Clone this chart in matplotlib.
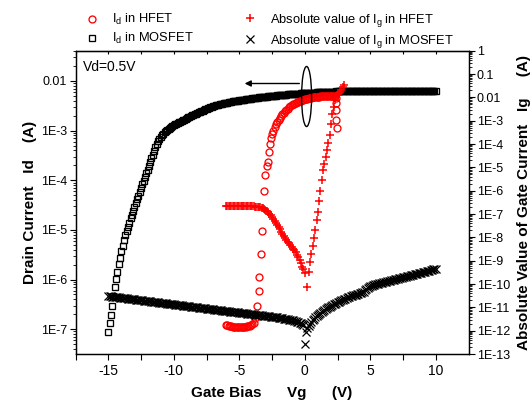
import numpy as np
import matplotlib
matplotlib.use("Agg")
import matplotlib.pyplot as plt
from matplotlib.ticker import FixedLocator, FuncFormatter, LogLocator, NullFormatter
from matplotlib.patches import Ellipse

plt.rcParams['font.family'] = ['Liberation Sans', 'DejaVu Sans']
plt.rcParams['axes.unicode_minus'] = False
plt.rcParams['mathtext.fontset'] = 'custom'
plt.rcParams['mathtext.rm'] = 'Liberation Sans'

# ---------------- data ----------------
vg_mos = [-15.0, -14.9, -14.8, -14.7, -14.6, -14.5, -14.4, -14.3, -14.2, -14.1,
          -14.0, -13.9, -13.8, -13.7, -13.6, -13.5, -13.4, -13.3, -13.2, -13.1,
          -13.0, -12.9, -12.8, -12.7, -12.6, -12.5, -12.4, -12.3, -12.2, -12.1,
          -12.0, -11.9, -11.8, -11.7, -11.6, -11.5, -11.4, -11.3, -11.2, -11.1,
          -11.0, -10.9, -10.8, -10.7, -10.6, -10.5, -10.4, -10.3, -10.2, -10.1,
          -10.0, -9.9, -9.8, -9.7, -9.6, -9.5, -9.4, -9.3, -9.2, -9.1,
          -9.0, -8.9, -8.8, -8.7, -8.6, -8.5, -8.4, -8.3, -8.2, -8.1,
          -8.0, -7.9, -7.8, -7.7, -7.6, -7.5, -7.4, -7.3, -7.2, -7.1,
          -7.0, -6.9, -6.8, -6.7, -6.6, -6.5, -6.4, -6.3, -6.2, -6.1,
          -6.0, -5.9, -5.8, -5.7, -5.6, -5.5, -5.4, -5.3, -5.2, -5.1,
          -5.0, -4.9, -4.8, -4.7, -4.6, -4.5, -4.4, -4.3, -4.2, -4.1,
          -4.0, -3.9, -3.8, -3.7, -3.6, -3.5, -3.4, -3.3, -3.2, -3.1,
          -3.0, -2.9, -2.8, -2.7, -2.6, -2.5, -2.4, -2.3, -2.2, -2.1,
          -2.0, -1.9, -1.8, -1.7, -1.6, -1.5, -1.4, -1.3, -1.2, -1.1,
          -1.0, -0.9, -0.8, -0.7, -0.6, -0.5, -0.4, -0.3, -0.2, -0.1,
          0.0, 0.1, 0.2, 0.3, 0.4, 0.5, 0.6, 0.7, 0.8, 0.9,
          1.0, 1.1, 1.2, 1.3, 1.4, 1.5, 1.6, 1.7, 1.8, 1.9,
          2.0, 2.1, 2.2, 2.3, 2.4, 2.5, 2.6, 2.7, 2.8, 2.9,
          3.0, 3.1, 3.2, 3.3, 3.4, 3.5, 3.6, 3.7, 3.8, 3.9,
          4.0, 4.1, 4.2, 4.3, 4.4, 4.5, 4.6, 4.7, 4.8, 4.9,
          5.0, 5.1, 5.2, 5.3, 5.4, 5.5, 5.6, 5.7, 5.8, 5.9,
          6.0, 6.1, 6.2, 6.3, 6.4, 6.5, 6.6, 6.7, 6.8, 6.9,
          7.0, 7.1, 7.2, 7.3, 7.4, 7.5, 7.6, 7.7, 7.8, 7.9,
          8.0, 8.1, 8.2, 8.3, 8.4, 8.5, 8.6, 8.7, 8.8, 8.9,
          9.0, 9.1, 9.2, 9.3, 9.4, 9.5, 9.6, 9.7, 9.8, 9.9,
          10.0]

id_mos = [8.7e-8, 1.32e-7, 1.95e-7, 2.95e-7, 4.6e-7, 7.1e-7, 1.02e-6, 1.45e-6, 2.04e-6, 2.75e-6,
          3.7e-6, 4.8e-6, 6.2e-6, 7.8e-6, 9.5e-6, 1.17e-5, 1.41e-5, 1.70e-5, 2.04e-5, 2.45e-5,
          2.95e-5, 3.5e-5, 4.1e-5, 4.9e-5, 5.8e-5, 6.9e-5, 8.3e-5, 9.8e-5, 1.17e-4, 1.38e-4,
          1.62e-4, 1.95e-4, 2.29e-4, 2.75e-4, 3.2e-4, 3.9e-4, 4.6e-4, 5.4e-4, 6.2e-4, 6.9e-4,
          7.6e-4, 8.1e-4, 8.7e-4, 9.3e-4, 1.00e-3, 1.05e-3, 1.10e-3, 1.15e-3, 1.20e-3, 1.24e-3,
          1.29e-3, 1.33e-3, 1.37e-3, 1.42e-3, 1.47e-3, 1.51e-3, 1.56e-3, 1.61e-3, 1.67e-3, 1.72e-3,
          1.78e-3, 1.84e-3, 1.90e-3, 1.96e-3, 2.02e-3, 2.09e-3, 2.15e-3, 2.21e-3, 2.27e-3, 2.33e-3,
          2.40e-3, 2.47e-3, 2.54e-3, 2.61e-3, 2.68e-3, 2.75e-3, 2.82e-3, 2.88e-3, 2.95e-3, 3.02e-3,
          3.09e-3, 3.15e-3, 3.21e-3, 3.27e-3, 3.33e-3, 3.39e-3, 3.44e-3, 3.48e-3, 3.53e-3, 3.58e-3,
          3.63e-3, 3.68e-3, 3.73e-3, 3.78e-3, 3.84e-3, 3.89e-3, 3.93e-3, 3.96e-3, 4.00e-3, 4.04e-3,
          4.07e-3, 4.11e-3, 4.15e-3, 4.19e-3, 4.23e-3, 4.27e-3, 4.31e-3, 4.35e-3, 4.39e-3, 4.43e-3,
          4.47e-3, 4.51e-3, 4.55e-3, 4.59e-3, 4.63e-3, 4.68e-3, 4.70e-3, 4.72e-3, 4.74e-3, 4.77e-3,
          4.79e-3, 4.84e-3, 4.88e-3, 4.92e-3, 4.97e-3, 5.01e-3, 5.03e-3, 5.06e-3, 5.08e-3, 5.11e-3,
          5.13e-3, 5.17e-3, 5.20e-3, 5.24e-3, 5.27e-3, 5.31e-3, 5.33e-3, 5.36e-3, 5.38e-3, 5.41e-3,
          5.43e-3, 5.46e-3, 5.48e-3, 5.51e-3, 5.53e-3, 5.56e-3, 5.58e-3, 5.61e-3, 5.64e-3, 5.66e-3,
          5.69e-3, 5.72e-3, 5.74e-3, 5.77e-3, 5.79e-3, 5.82e-3, 5.83e-3, 5.84e-3, 5.86e-3, 5.87e-3,
          5.89e-3, 5.92e-3, 5.94e-3, 5.97e-3, 6.00e-3, 6.03e-3, 6.04e-3, 6.05e-3, 6.07e-3, 6.08e-3,
          6.10e-3, 6.11e-3, 6.13e-3, 6.14e-3, 6.15e-3, 6.17e-3, 6.17e-3, 6.16e-3, 6.17e-3, 6.18e-3,
          6.17e-3, 6.17e-3, 6.16e-3, 6.17e-3, 6.18e-3, 6.17e-3, 6.17e-3, 6.16e-3, 6.17e-3, 6.18e-3,
          6.17e-3, 6.17e-3, 6.16e-3, 6.17e-3, 6.18e-3, 6.17e-3, 6.17e-3, 6.16e-3, 6.17e-3, 6.18e-3,
          6.17e-3, 6.17e-3, 6.16e-3, 6.17e-3, 6.18e-3, 6.17e-3, 6.17e-3, 6.16e-3, 6.17e-3, 6.18e-3,
          6.17e-3, 6.17e-3, 6.16e-3, 6.17e-3, 6.18e-3, 6.17e-3, 6.17e-3, 6.16e-3, 6.17e-3, 6.18e-3,
          6.17e-3, 6.17e-3, 6.16e-3, 6.17e-3, 6.18e-3, 6.17e-3, 6.17e-3, 6.16e-3, 6.17e-3, 6.18e-3,
          6.17e-3, 6.17e-3, 6.16e-3, 6.17e-3, 6.18e-3, 6.17e-3, 6.17e-3, 6.16e-3, 6.17e-3, 6.18e-3,
          6.17e-3, 6.17e-3, 6.16e-3, 6.17e-3, 6.18e-3, 6.17e-3, 6.17e-3, 6.16e-3, 6.17e-3, 6.18e-3,
          6.17e-3]

ig_mos = [3.02e-11, 2.97e-11, 2.92e-11, 2.88e-11, 2.83e-11, 2.78e-11, 2.74e-11, 2.69e-11, 2.65e-11, 2.60e-11,
          2.56e-11, 2.52e-11, 2.48e-11, 2.44e-11, 2.40e-11, 2.36e-11, 2.32e-11, 2.29e-11, 2.25e-11, 2.21e-11,
          2.18e-11, 2.14e-11, 2.11e-11, 2.07e-11, 2.04e-11, 2.01e-11, 1.97e-11, 1.94e-11, 1.91e-11, 1.88e-11,
          1.85e-11, 1.82e-11, 1.79e-11, 1.76e-11, 1.73e-11, 1.70e-11, 1.68e-11, 1.65e-11, 1.62e-11, 1.60e-11,
          1.57e-11, 1.55e-11, 1.52e-11, 1.50e-11, 1.47e-11, 1.45e-11, 1.43e-11, 1.40e-11, 1.38e-11, 1.36e-11,
          1.34e-11, 1.31e-11, 1.29e-11, 1.27e-11, 1.25e-11, 1.23e-11, 1.21e-11, 1.19e-11, 1.17e-11, 1.15e-11,
          1.135e-11, 1.12e-11, 1.10e-11, 1.08e-11, 1.06e-11, 1.045e-11, 1.03e-11, 1.01e-11, 9.95e-12, 9.8e-12,
          9.64e-12, 9.48e-12, 9.33e-12, 9.18e-12, 9.03e-12, 8.88e-12, 8.74e-12, 8.60e-12, 8.46e-12, 8.33e-12,
          8.20e-12, 8.06e-12, 7.93e-12, 7.80e-12, 7.68e-12, 7.55e-12, 7.43e-12, 7.31e-12, 7.19e-12, 7.08e-12,
          6.97e-12, 6.85e-12, 6.74e-12, 6.63e-12, 6.53e-12, 6.42e-12, 6.32e-12, 6.21e-12, 6.11e-12, 6.02e-12,
          5.92e-12, 5.82e-12, 5.73e-12, 5.64e-12, 5.55e-12, 5.46e-12, 5.37e-12, 5.28e-12, 5.20e-12, 5.11e-12,
          5.02e-12, 4.94e-12, 4.86e-12, 4.78e-12, 4.71e-12, 4.63e-12, 4.56e-12, 4.48e-12, 4.41e-12, 4.34e-12,
          4.27e-12, 4.20e-12, 4.13e-12, 4.07e-12, 4.00e-12, 3.94e-12, 3.87e-12, 3.81e-12, 3.75e-12, 3.69e-12,
          3.63e-12, 3.55e-12, 3.47e-12, 3.39e-12, 3.31e-12, 3.23e-12, 3.15e-12, 3.07e-12, 2.99e-12, 2.91e-12,
          2.83e-12, 2.74e-12, 2.65e-12, 2.55e-12, 2.45e-12, 2.33e-12, 2.20e-12, 2.05e-12, 1.88e-12, 1.68e-12,
          2.7e-13, 9.1e-13, 1.35e-12, 1.65e-12, 1.95e-12, 2.35e-12, 2.8e-12, 3.25e-12, 3.75e-12, 4.25e-12,
          4.8e-12, 5.35e-12, 5.95e-12, 6.55e-12, 7.2e-12, 7.9e-12, 8.6e-12, 9.3e-12, 1.0e-11, 1.08e-11,
          1.17e-11, 1.28e-11, 1.36e-11, 1.45e-11, 1.55e-11, 1.67e-11, 1.78e-11, 1.89e-11, 2.0e-11, 2.12e-11,
          2.25e-11, 2.38e-11, 2.51e-11, 2.65e-11, 2.8e-11, 2.95e-11, 3.1e-11, 3.25e-11, 3.4e-11, 3.55e-11,
          3.75e-11, 3.9e-11, 4.1e-11, 4.3e-11, 4.5e-11, 4.75e-11, 5.5e-11, 6.3e-11, 7.0e-11, 7.6e-11,
          8.1e-11, 8.5e-11, 8.9e-11, 9.3e-11, 9.7e-11, 1.01e-10, 1.05e-10, 1.08e-10, 1.12e-10, 1.16e-10,
          1.20e-10, 1.24e-10, 1.28e-10, 1.32e-10, 1.37e-10, 1.41e-10, 1.46e-10, 1.51e-10, 1.56e-10, 1.61e-10,
          1.66e-10, 1.71e-10, 1.76e-10, 1.82e-10, 1.88e-10, 1.94e-10, 2.0e-10, 2.06e-10, 2.13e-10, 2.2e-10,
          2.27e-10, 2.34e-10, 2.42e-10, 2.5e-10, 2.58e-10, 2.67e-10, 2.76e-10, 2.85e-10, 2.94e-10, 3.04e-10,
          3.14e-10, 3.25e-10, 3.36e-10, 3.48e-10, 3.6e-10, 3.72e-10, 3.9e-10, 4.05e-10, 4.2e-10, 4.4e-10,
          4.6e-10]

vg_hfet_id = [-6.0, -5.9, -5.8, -5.7, -5.6, -5.5, -5.4, -5.3, -5.2, -5.1,
              -5.0, -4.9, -4.8, -4.7, -4.6, -4.5, -4.4, -4.3, -4.2, -4.1,
              -4.0, -3.9, -3.83, -3.67, -3.52, -3.47, -3.34, -3.26, -3.1, -3.0,
              -2.9, -2.83, -2.76, -2.68, -2.6, -2.5, -2.4, -2.3, -2.2, -2.1,
              -2.0, -1.9, -1.8, -1.7, -1.6, -1.5, -1.4, -1.3, -1.2, -1.1,
              -1.0, -0.9, -0.8, -0.7, -0.6, -0.5, -0.4, -0.3, -0.2, -0.1,
              0.0, 0.1, 0.2, 0.3, 0.4, 0.5, 0.6, 0.7, 0.8, 0.9,
              1.0, 1.1, 1.2, 1.3, 1.4, 1.5, 1.6, 1.7, 1.8, 1.9,
              2.0, 2.1, 2.2, 2.3, 2.4, 2.38, 2.36, 2.4, 2.45]
id_hfet = [1.23e-7, 1.20e-7, 1.18e-7, 1.16e-7, 1.15e-7, 1.13e-7, 1.12e-7, 1.12e-7, 1.11e-7, 1.11e-7,
           1.11e-7, 1.11e-7, 1.11e-7, 1.12e-7, 1.12e-7, 1.13e-7, 1.14e-7, 1.15e-7, 1.17e-7, 1.20e-7,
           1.25e-7, 1.32e-7, 1.66e-7, 2.9e-7, 5.8e-7, 1.15e-6, 3.2e-6, 9.3e-6, 6.0e-5, 1.29e-4,
           1.9e-4, 2.3e-4, 3.7e-4, 5.4e-4, 7.1e-4, 8.5e-4, 1.0e-3, 1.17e-3, 1.35e-3, 1.48e-3,
           1.62e-3, 1.78e-3, 1.95e-3, 2.14e-3, 2.29e-3, 2.45e-3, 2.63e-3, 2.75e-3, 2.95e-3, 3.09e-3,
           3.24e-3, 3.39e-3, 3.47e-3, 3.63e-3, 3.72e-3, 3.80e-3, 3.89e-3, 3.98e-3, 4.07e-3, 4.17e-3,
           4.27e-3, 4.37e-3, 4.4e-3, 4.47e-3, 4.57e-3, 4.6e-3, 4.68e-3, 4.73e-3, 4.79e-3, 4.79e-3,
           4.84e-3, 4.84e-3, 4.9e-3, 4.9e-3, 4.9e-3, 4.9e-3, 4.9e-3, 4.9e-3, 4.9e-3, 4.9e-3,
           4.9e-3, 4.9e-3, 4.9e-3, 4.9e-3, 4.57e-3, 3.63e-3, 2.63e-3, 1.66e-3, 1.12e-3]

vg_hfet_ig = [-6.0, -5.9, -5.8, -5.7, -5.6, -5.5, -5.4, -5.3, -5.2, -5.1,
              -5.0, -4.9, -4.8, -4.7, -4.6, -4.5, -4.4, -4.3, -4.2, -4.1,
              -4.0, -3.9, -3.8, -3.7, -3.6, -3.5, -3.4, -3.3, -3.2, -3.1,
              -3.0, -2.9, -2.8, -2.7, -2.6, -2.5, -2.4, -2.3, -2.2, -2.1,
              -2.0, -1.9, -1.8, -1.7, -1.6, -1.5, -1.4, -1.3, -1.2, -1.1,
              -1.0, -0.9, -0.8, -0.7, -0.6, -0.5, -0.4, -0.3, -0.2, -0.1,
              0.0, 0.15, 0.3, 0.4, 0.5, 0.6, 0.7, 0.8, 0.9, 1.0,
              1.1, 1.2, 1.3, 1.4, 1.5, 1.6, 1.7, 1.8, 1.9, 2.0,
              2.1, 2.2, 2.3, 2.4, 2.5, 2.6, 2.7, 2.8, 2.9, 3.0]
ig_hfet = [2.25e-7, 2.24e-7, 2.24e-7, 2.23e-7, 2.23e-7, 2.22e-7, 2.22e-7, 2.21e-7, 2.21e-7, 2.2e-7,
           2.2e-7, 2.2e-7, 2.19e-7, 2.19e-7, 2.18e-7, 2.18e-7, 2.17e-7, 2.16e-7, 2.15e-7, 2.14e-7,
           2.13e-7, 2.12e-7, 2.1e-7, 2.08e-7, 2.06e-7, 2.03e-7, 1.98e-7, 1.90e-7, 1.78e-7, 1.63e-7,
           1.48e-7, 1.35e-7, 1.2e-7, 1.05e-7, 8.9e-8, 7.6e-8, 6.3e-8, 5.2e-8, 4.3e-8, 3.5e-8,
           2.8e-8, 2.2e-8, 1.78e-8, 1.41e-8, 1.15e-8, 9.3e-9, 7.8e-9, 6.6e-9, 5.5e-9, 4.7e-9,
           3.9e-9, 3.3e-9, 2.75e-9, 2.3e-9, 1.8e-9, 1.4e-9, 1.05e-9, 7.8e-10, 5.5e-10, 4.2e-10,
           2.9e-10, 7.6e-11, 3.4e-10, 8.9e-10, 2.0e-9, 4.4e-9, 9.3e-9, 2.0e-8, 5.8e-8, 1.26e-7,
           3.5e-7, 1.0e-6, 2.8e-6, 7.6e-6, 1.45e-5, 2.75e-5, 5.4e-5, 1.1e-4, 2.4e-4, 7.1e-4,
           1.9e-3, 4.0e-3, 7.6e-3, 1.07e-2, 1.29e-2, 1.55e-2, 1.78e-2, 2.1e-2, 2.7e-2, 3.4e-2]

x_major = [-15, -10, -5, 0, 5, 10]
x_minor = [-17.5, -12.5, -7.5, -2.5, 2.5, 7.5]

# ---------------- figure ----------------
fig = plt.figure(figsize=(5.31, 4.05), dpi=100)
ax = fig.add_axes([0.1422, 0.1259, 0.7401, 0.7489])
ax2 = ax.twinx()

ms_sq = ax.plot(vg_mos, id_mos, linestyle='none', marker='s', ms=5.0, mfc='none',
                mec='black', mew=0.95, label=r'I$_\mathregular{d}$ in MOSFET')[0]
hf_id = ax.plot(vg_hfet_id, id_hfet, linestyle='none', marker='o', ms=5.0, mfc='none',
                mec='red', mew=0.95, label=r'I$_\mathregular{d}$ in HFET')[0]
hf_ig = ax2.plot(vg_hfet_ig, ig_hfet, linestyle='none', marker='+', ms=6.0,
                 mec='red', mew=1.1, label=r'Absolute value of I$_\mathregular{g}$ in HFET')[0]
ms_ig = ax2.plot(vg_mos, ig_mos, linestyle='none', marker='x', ms=6.2,
                 mec='black', mew=0.9, label=r'Absolute value of I$_\mathregular{g}$ in MOSFET')[0]

ax.set_yscale('log')
ax2.set_yscale('log')
ax.set_xlim(-17.5, 12.5)
ax.set_ylim(10 ** -7.5, 10 ** -1.39)
ax2.set_ylim(1e-13, 1)


def fmt(v, pos):
    e = int(round(np.log10(v)))
    if e >= -2:
        return '%g' % (10.0 ** e)
    return '1E%d' % e


ax.yaxis.set_major_locator(LogLocator(base=10, numticks=20))
ax.yaxis.set_minor_locator(LogLocator(base=10, subs=np.arange(2, 10), numticks=20))
ax.yaxis.set_major_formatter(FuncFormatter(fmt))
ax.yaxis.set_minor_formatter(NullFormatter())
ax2.yaxis.set_major_locator(LogLocator(base=10, numticks=30))
ax2.yaxis.set_minor_locator(LogLocator(base=10, subs=np.arange(2, 10), numticks=30))
ax2.yaxis.set_major_formatter(FuncFormatter(fmt))
ax2.yaxis.set_minor_formatter(NullFormatter())

ax.xaxis.set_major_locator(FixedLocator(x_major))
ax.xaxis.set_minor_locator(FixedLocator(x_minor))

ax.tick_params(axis='x', which='major', direction='out', length=4, width=0.8,
               labelsize=10, pad=3, top=False)
ax.tick_params(axis='x', which='minor', direction='out', length=4, width=0.8, top=False)
ax.tick_params(axis='y', which='major', direction='out', length=4, width=0.8,
               labelsize=9, right=False, pad=2)
ax.tick_params(axis='y', which='minor', direction='out', length=2, width=0.6, right=False)
ax2.tick_params(axis='y', which='major', direction='out', length=4, width=0.8,
                labelsize=9, left=False, pad=2)
ax2.tick_params(axis='y', which='minor', direction='out', length=2, width=0.6, left=False)

secx = ax.secondary_xaxis('top')
secx.xaxis.set_major_locator(FixedLocator(x_major + x_minor))
secx.tick_params(axis='x', which='major', direction='in', length=2.5, width=0.8, labeltop=False)
secx.xaxis.set_minor_locator(FixedLocator([]))

for a in (ax, ax2):
    for s in a.spines.values():
        s.set_linewidth(0.9)

ax.set_xlabel('Gate Bias      Vg      (V)', fontsize=11, fontweight='bold', labelpad=6)
ax.set_ylabel('Drain Current   Id    (A)', fontsize=11, fontweight='bold', labelpad=3)
ax2.set_ylabel('Absolute Value of Gate Current   Ig     (A)', fontsize=11,
               fontweight='bold', labelpad=5)

ax.text(0.02, 0.945, 'Vd=0.5V', transform=ax.transAxes, fontsize=10, va='center', ha='left')

# ellipse + arrow annotation pointing to left axis
ell = Ellipse((0.588, 0.849), 0.0254, 0.198, transform=ax.transAxes,
              fill=False, edgecolor='black', lw=1.0, zorder=5)
ax.add_patch(ell)
ax.annotate('', xy=(-4.8, 8.9e-3), xytext=(-0.2, 8.9e-3),
            arrowprops=dict(arrowstyle='-|>', color='black', lw=1.0, mutation_scale=9),
            zorder=5)

leg1 = fig.legend(handles=[hf_id, ms_sq], loc='upper left', bbox_to_anchor=(0.152, 0.983),
                  frameon=False, fontsize=9.3, handlelength=1.0, handletextpad=1.0,
                  labelspacing=0.3, borderaxespad=0.0)
leg2 = fig.legend(handles=[hf_ig, ms_ig], loc='upper left', bbox_to_anchor=(0.448, 0.983),
                  frameon=False, fontsize=9.3, handlelength=1.0, handletextpad=1.1,
                  labelspacing=0.3, borderaxespad=0.0)

fig.savefig('out.png', dpi=100)
